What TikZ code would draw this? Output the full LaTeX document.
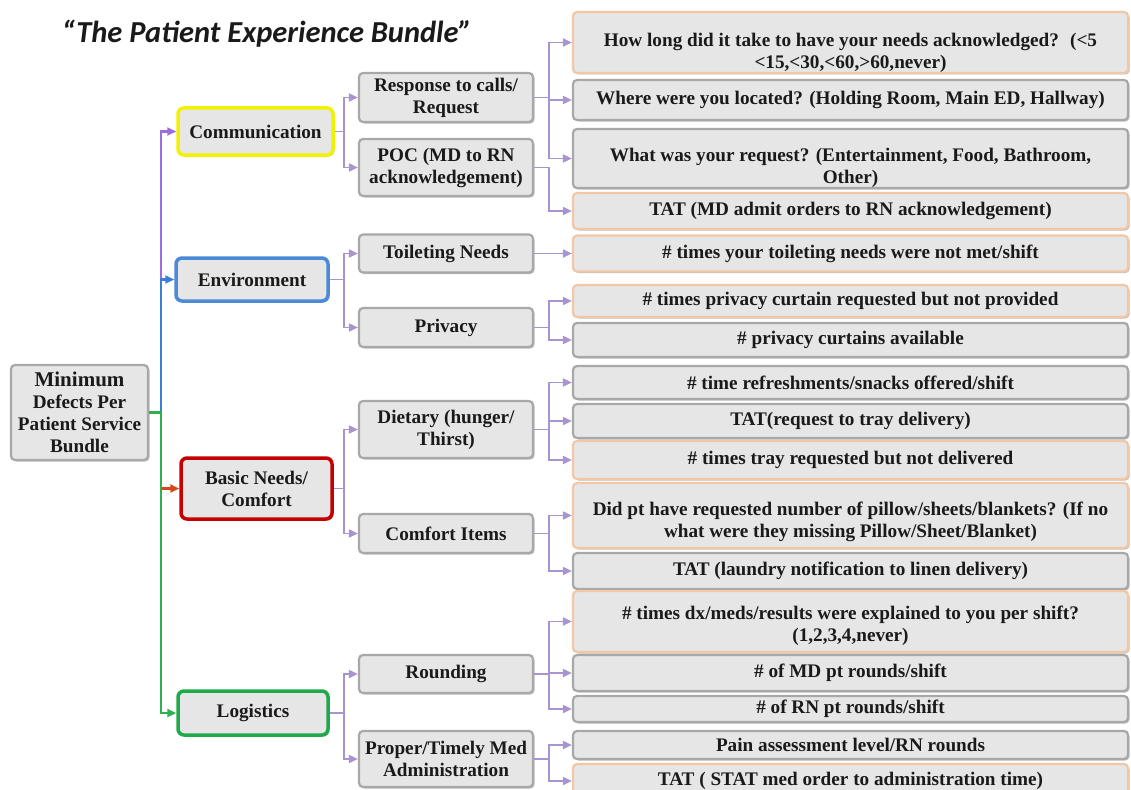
\documentclass[tikz,border=0pt]{standalone}
\usepackage{fontspec}
\setmainfont{Liberation Serif}
\newfontfamily\titlefont{Carlito}
\usetikzlibrary{arrows.meta,shadows}
\definecolor{boxfill}{HTML}{E6E6E6}
\definecolor{boxline}{HTML}{A8A8A8}
\definecolor{peach}{HTML}{F2C7A6}
\definecolor{lav}{HTML}{A894D0}
\definecolor{ycat}{HTML}{F2F200}
\definecolor{bcat}{HTML}{4A8AD6}
\definecolor{rcat}{HTML}{C40000}
\definecolor{gcat}{HTML}{1EAA4A}
\definecolor{tpur}{HTML}{9A6DE0}
\definecolor{tblu}{HTML}{3A7FD5}
\definecolor{tred}{HTML}{D4461C}
\definecolor{tgrn}{HTML}{2DB14E}
\definecolor{ink}{HTML}{1A1A1A}
\newcommand\lowr[1]{\rule{0pt}{#1pt}}
\tikzset{
  boxbase/.style={draw=boxline, fill=boxfill, rounded corners=4pt, line width=2.2pt,
    text=ink, font=\bfseries\fontsize{19.2}{22}\selectfont, align=center, inner sep=0pt,
    drop shadow={shadow xshift=1.5pt, shadow yshift=-1.5pt, opacity=0.25, fill=black}},
  catbox/.style={boxbase, line width=3.5pt, rounded corners=6pt},
  subbox/.style={boxbase, minimum width=174pt},
  leafg/.style={boxbase, minimum width=555pt},
  leafo/.style={leafg, draw=peach},
  cn/.style={draw=lav, line width=1.8pt, -{Triangle[length=9pt,width=8pt]}},
  tr/.style={line width=2.2pt, -{Triangle[length=9pt,width=8pt]}}
}
\begin{document}
\begin{tikzpicture}[x=1pt,y=-1pt]
\useasboundingbox[fill=white] (0,0) rectangle (1131,789);
% title
\node[font=\titlefont\bfseries\itshape\fontsize{30.5}{33}\selectfont, text=ink] (title) at (267,34) {“The Patient Experience Bundle”};
% root
\node[boxbase, minimum width=137pt, minimum height=95pt] (root) at (79.5,412.5)
  {{\fontsize{21}{22}\selectfont Minimum}\\Defects Per\\Patient Service\\Bundle};
% categories
\node[catbox, draw=ycat, minimum width=155pt, minimum height=47pt] (comm) at (255.5,131.5) {Communication};
\node[catbox, draw=bcat, minimum width=152pt, minimum height=43pt] (env) at (252,279.5) {Environment};
\node[catbox, draw=rcat, minimum width=151pt, minimum height=61pt] (basic) at (256.5,488.5) {Basic Needs/\\Comfort};
\node[catbox, draw=gcat, minimum width=150pt, minimum height=44pt] (logi) at (253,713) {Logistics};
% subcategories
\node[subbox, minimum height=49pt] (resp) at (446,97.5) {Response to calls/\\Request};
\node[subbox, minimum height=57pt] (poc) at (446,167.5) {POC (MD to RN\\acknowledgement)};
\node[subbox, minimum height=38pt] (toil) at (446,253.5) {Toileting Needs};
\node[subbox, minimum height=39pt] (priv) at (446,327.5) {Privacy};
\node[subbox, minimum height=57pt] (diet) at (446,429.5) {Dietary (hunger/\\Thirst)};
\node[subbox, minimum height=39pt] (cmft) at (446,533.5) {Comfort Items};
\node[subbox, minimum height=38pt] (rnd) at (446,674) {Rounding};
\node[subbox, minimum height=56pt] (med) at (446,759) {Proper/Timely Med\\Administration};
% leaves
\node[leafo, minimum height=61pt] (l1) at (850.5,42.5) {\lowr{34}How long did it take to have your needs acknowledged?~ (<5\\<15,<30,<60,>60,never)};
\node[leafg, minimum height=40pt] (l2) at (850.5,100) {Where were you located? (Holding Room, Main ED, Hallway)};
\node[leafg, minimum height=59pt] (l3) at (850.5,158.5) {\lowr{33}What was your request? (Entertainment, Food, Bathroom,\\Other)};
\node[leafo, minimum height=36pt] (l4) at (850.5,211) {TAT (MD admit orders to RN acknowledgement)};
\node[leafo, minimum height=36pt] (l5) at (850.5,253.5) {\# times your toileting needs were not met/shift};
\node[leafo, minimum height=32pt] (l6) at (850.5,301) {\# times privacy curtain requested but not provided};
\node[leafg, minimum height=34pt] (l7) at (850.5,340) {\# privacy curtains available};
\node[leafg, minimum height=33pt] (l8) at (850.5,382.5) {\# time refreshments/snacks offered/shift};
\node[leafg, minimum height=34pt] (l9) at (850.5,421) {TAT(request to tray delivery)};
\node[leafo, minimum height=38pt] (l10) at (850.5,460) {\# times tray requested but not delivered};
\node[leafo, minimum height=65pt] (l11) at (850.5,515.5) {\lowr{27}Did pt have requested number of pillow/sheets/blankets? (If no\\what were they missing Pillow/Sheet/Blanket)};
\node[leafg, minimum height=36pt] (l12) at (850.5,571) {TAT (laundry notification to linen delivery)};
\node[leafo, minimum height=61pt] (l13) at (850.5,621.5) {\lowr{22}\# times dx/meds/results were explained to you per shift?\\(1,2,3,4,never)};
\node[leafg, minimum height=36pt] (l14) at (850.5,673) {\# of MD pt rounds/shift};
\node[leafg, minimum height=26pt] (l15) at (850.5,709) {\# of RN pt rounds/shift};
\node[leafg, minimum height=28pt] (l16) at (850.5,745) {Pain assessment level/RN rounds};
\node[leafo, minimum height=34pt] (l17) at (850.5,781) {TAT ( STAT med order to administration time)};
% root trunk
\draw[tr, draw=tpur] (root.east) -- ++(12,0) |- (comm.west);
\draw[tr, draw=tblu] (root.east) -- ++(12,0) |- (env.west);
\draw[tr, draw=tred] (root.east) -- ++(12,0) |- (basic.west);
\draw[tr, draw=tgrn] (root.east) -- ++(12,0) |- (logi.west);
% category to sub
\draw[cn] (comm.east) -- ++(9,0) |- (resp.west);
\draw[cn] (comm.east) -- ++(9,0) |- (poc.west);
\draw[cn] (env.east) -- ++(14,0) |- (toil.west);
\draw[cn] (env.east) -- ++(14,0) |- (priv.west);
\draw[cn] (basic.east) -- ++(10,0) |- (diet.west);
\draw[cn] (basic.east) -- ++(10,0) |- (cmft.west);
\draw[cn] (logi.east) -- ++(14,0) |- (rnd.west);
\draw[cn] (logi.east) -- ++(14,0) |- (med.west);
% sub to leaves
\draw[cn] (resp.east) -- ++(15,0) |- (l1.west);
\draw[cn] (resp.east) -- ++(15,0) |- (l2.west);
\draw[cn] (resp.east) -- ++(15,0) |- (l3.west);
\draw[cn] (poc.east) -- ++(15,0) |- (l4.west);
\draw[cn] (toil.east) -- (l5.west);
\draw[cn] (priv.east) -- ++(15,0) |- (l6.west);
\draw[cn] (priv.east) -- ++(15,0) |- (l7.west);
\draw[cn] (diet.east) -- ++(15,0) |- (l8.west);
\draw[cn] (diet.east) -- ++(15,0) |- (l9.west);
\draw[cn] (diet.east) -- ++(15,0) |- (l10.west);
\draw[cn] (cmft.east) -- ++(15,0) |- (l11.west);
\draw[cn] (cmft.east) -- ++(15,0) |- (l12.west);
\draw[cn] (rnd.east) -- ++(15,0) |- (l13.west);
\draw[cn] (rnd.east) -- ++(15,0) |- (l14.west);
\draw[cn] (rnd.east) -- ++(15,0) |- (l15.west);
\draw[cn] (med.east) -- ++(15,0) |- (l16.west);
\draw[cn] (med.east) -- ++(15,0) |- (l17.west);
\end{tikzpicture}
\end{document}
